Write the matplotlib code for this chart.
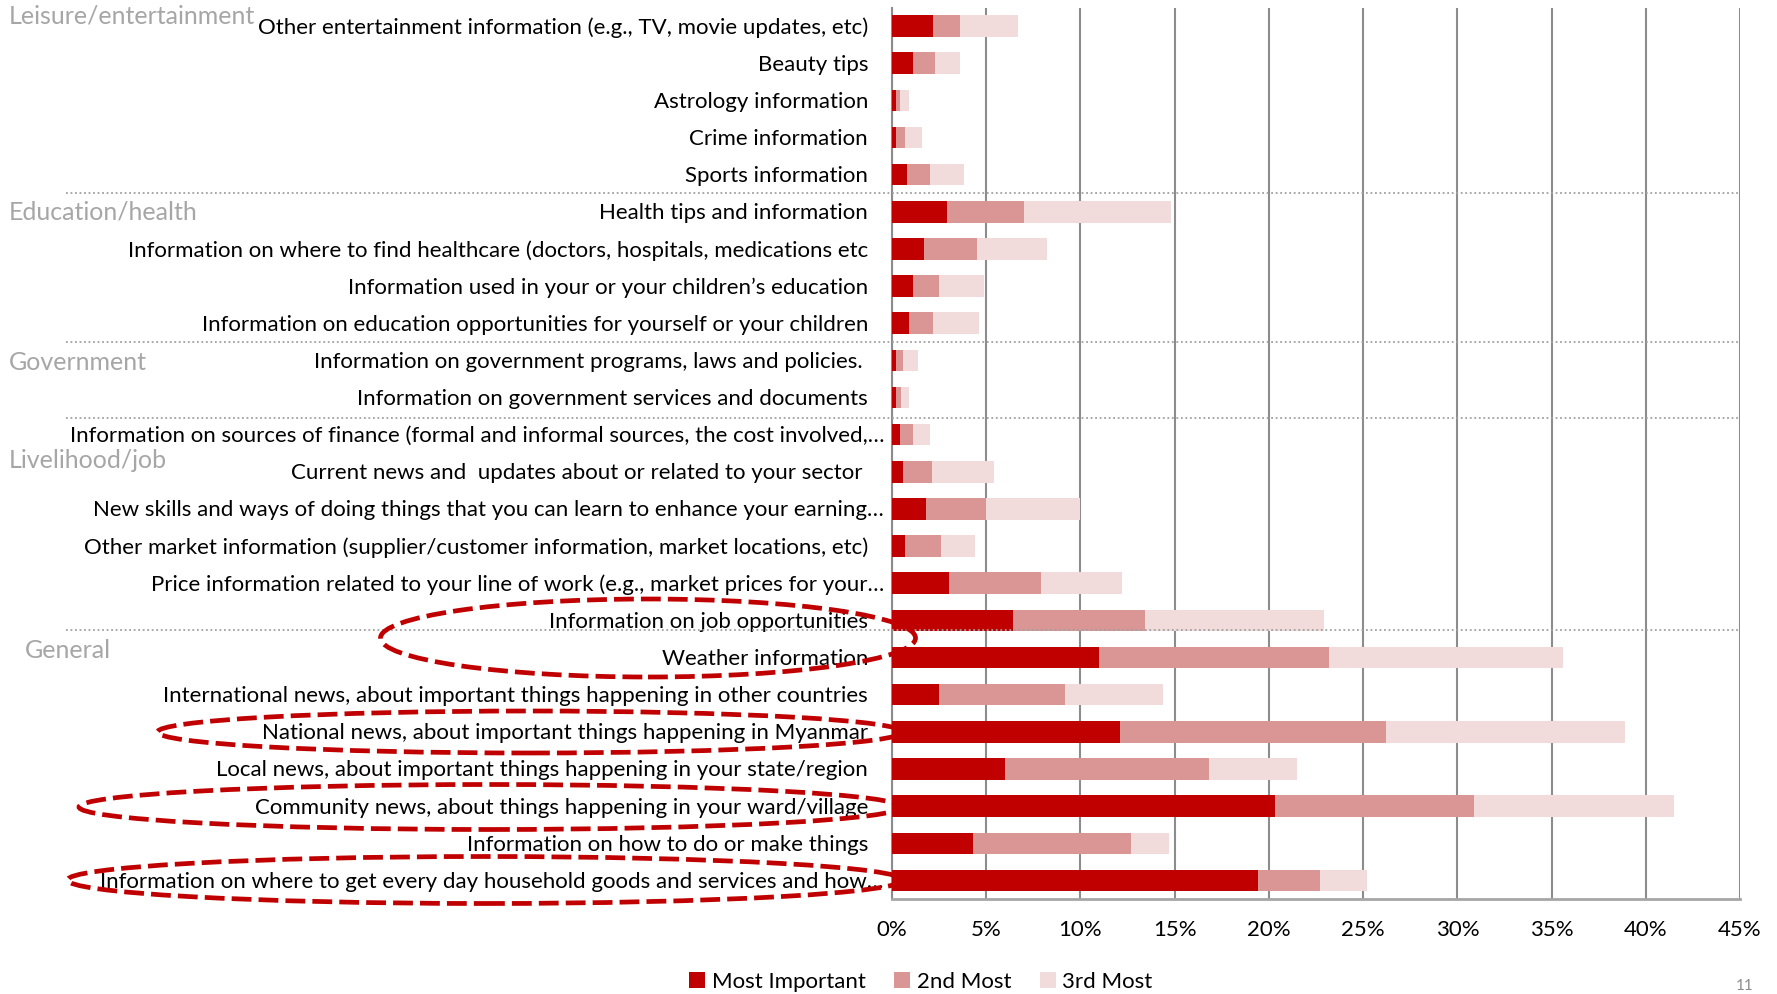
import matplotlib
matplotlib.use('Agg')
import matplotlib.pyplot as plt
import matplotlib.transforms as mtransforms
from matplotlib.patches import Ellipse

plt.rcParams['font.family'] = ['Lato', 'DejaVu Sans']

# --------------------------------
# data (top to bottom), % of respondents
# --------------------------------
labels = [
    "Other entertainment information (e.g., TV, movie updates, etc)",
    "Beauty tips",
    "Astrology information",
    "Crime information",
    "Sports information",
    "Health tips and information",
    "Information on where to find healthcare (doctors, hospitals, medications etc",
    "Information used in your or your children\u2019s education",
    "Information on education opportunities for yourself or your children",
    "Information on government programs, laws and policies. ",
    "Information on government services and documents",
    "Information on sources of finance (formal and informal sources, the cost involved,\u2026",
    "Current news and  updates about or related to your sector ",
    "New skills and ways of doing things that you can learn to enhance your earning\u2026",
    "Other market information (supplier/customer information, market locations, etc)",
    "Price information related to your line of work (e.g., market prices for your\u2026",
    "Information on job opportunities",
    "Weather information",
    "International news, about important things happening in other countries",
    "National news, about important things happening in Myanmar",
    "Local news, about important things happening in your state/region",
    "Community news, about things happening in your ward/village",
    "Information on how to do or make things",
    "Information on where to get every day household goods and services and how\u2026",
]
most_important = [2.2, 1.1, 0.2, 0.2, 0.8, 2.9, 1.7, 1.1, 0.9, 0.2, 0.2, 0.4,
                  0.6, 1.8, 0.7, 3.0, 6.4, 11.0, 2.5, 12.1, 6.0, 20.3, 4.3, 19.4]
second_most = [1.4, 1.2, 0.2, 0.5, 1.2, 4.1, 2.8, 1.4, 1.3, 0.4, 0.3, 0.7,
               1.5, 3.2, 1.9, 4.9, 7.0, 12.2, 6.7, 14.1, 10.8, 10.6, 8.4, 3.3]
third_most = [3.1, 1.3, 0.5, 0.9, 1.8, 7.8, 3.7, 2.4, 2.4, 0.8, 0.4, 0.9,
              3.3, 5.0, 1.8, 4.3, 9.5, 12.4, 5.2, 12.7, 4.7, 10.6, 2.0, 2.5]
series_names = ["Most Important", "2nd Most", "3rd Most"]
colors = ["#C00000", "#D99694", "#F2DCDB"]

# group headings and the row they sit at
groups = ["Leisure/entertainment", "Education/health", "Government",
          "Livelihood/job", "General"]
group_rows = [-0.27, 5.0, 9.05, 11.7, 16.8]
separators = [4.5, 8.5, 10.55, 16.27]

# highlighted rows (dashed ellipses), pixel boxes: cx, cy, w, h
highlights = [(648, 638, 535, 78), (530, 732, 745, 42),
              (490, 807, 822, 45), (485, 880, 835, 47)]

W, H = 1777, 994
fig = plt.figure(figsize=(W / 100, H / 100), dpi=100)
ax = fig.add_axes([892 / W, 1 - 899 / H, (1740 - 892) / W, (899 - 7.5) / H])

y = list(range(len(labels)))
left = [0.0] * len(labels)
for vals, name, col in zip([most_important, second_most, third_most], series_names, colors):
    ax.barh(y, vals, left=left, height=0.58, color=col, label=name, zorder=3)
    left = [a + b for a, b in zip(left, vals)]

ax.set_xlim(0, 45)
ax.set_ylim(len(labels) - 0.5, -0.5)
ax.set_xticks(range(0, 50, 5))
ax.set_xticklabels([f"{v}%" for v in range(0, 50, 5)], fontsize=16)
ax.tick_params(axis='x', length=0, pad=15)
ax.set_yticks([])
ax.grid(axis='x', color="#8c8c8c", linewidth=1.5, zorder=0)
for s in ["top", "right"]:
    ax.spines[s].set_visible(False)
ax.spines["left"].set_color("#8c8c8c")
ax.spines["left"].set_linewidth(1.5)
ax.spines["bottom"].set_color("#a6a6a6")
ax.spines["bottom"].set_linewidth(2)

# category labels (right aligned next to the axis)
trans = mtransforms.blended_transform_factory(ax.transAxes, ax.transData)
for i, lab in enumerate(labels):
    xpos = (884 - 892) / 848 if lab.endswith("\u2026") else (868 - 892) / 848
    ax.text(xpos, i + 0.04, lab, transform=trans, ha='right', va='center',
            fontsize=16, color="black")

# group headings
for g, r in zip(groups, group_rows):
    xg = (25 if g == "General" else 9)
    ax.text((xg - 892) / 848, r, g, transform=trans, ha='left', va='center',
            fontsize=18, color="#a6a6a6")

# dotted separators
for s in separators:
    ax.plot([(66 - 892) / 848, 1.0], [s, s], transform=trans, color="#a0a0a0",
            linestyle=(0, (1, 1.5)), linewidth=1.3, clip_on=False, zorder=4)

# dashed ellipses
for cx, cy, w, h in highlights:
    e = Ellipse((cx / W, 1 - cy / H), w / W, h / H, transform=fig.transFigure,
                fill=False, edgecolor="#C00000", linewidth=3.4,
                linestyle=(0, (4.2, 1.5)), zorder=10)
    fig.add_artist(e)

fig.legend(loc='center', bbox_to_anchor=(921 / W, 1 - 982 / H), ncol=3,
           frameon=False, fontsize=16, handlelength=0.7, handleheight=0.7,
           handletextpad=0.3, columnspacing=1.3)

fig.text(1745 / W, 1 - 993 / H, "11", ha='center', va='bottom', fontsize=11,
         color="#8c8c8c")

fig.savefig("out.png", dpi=100)
